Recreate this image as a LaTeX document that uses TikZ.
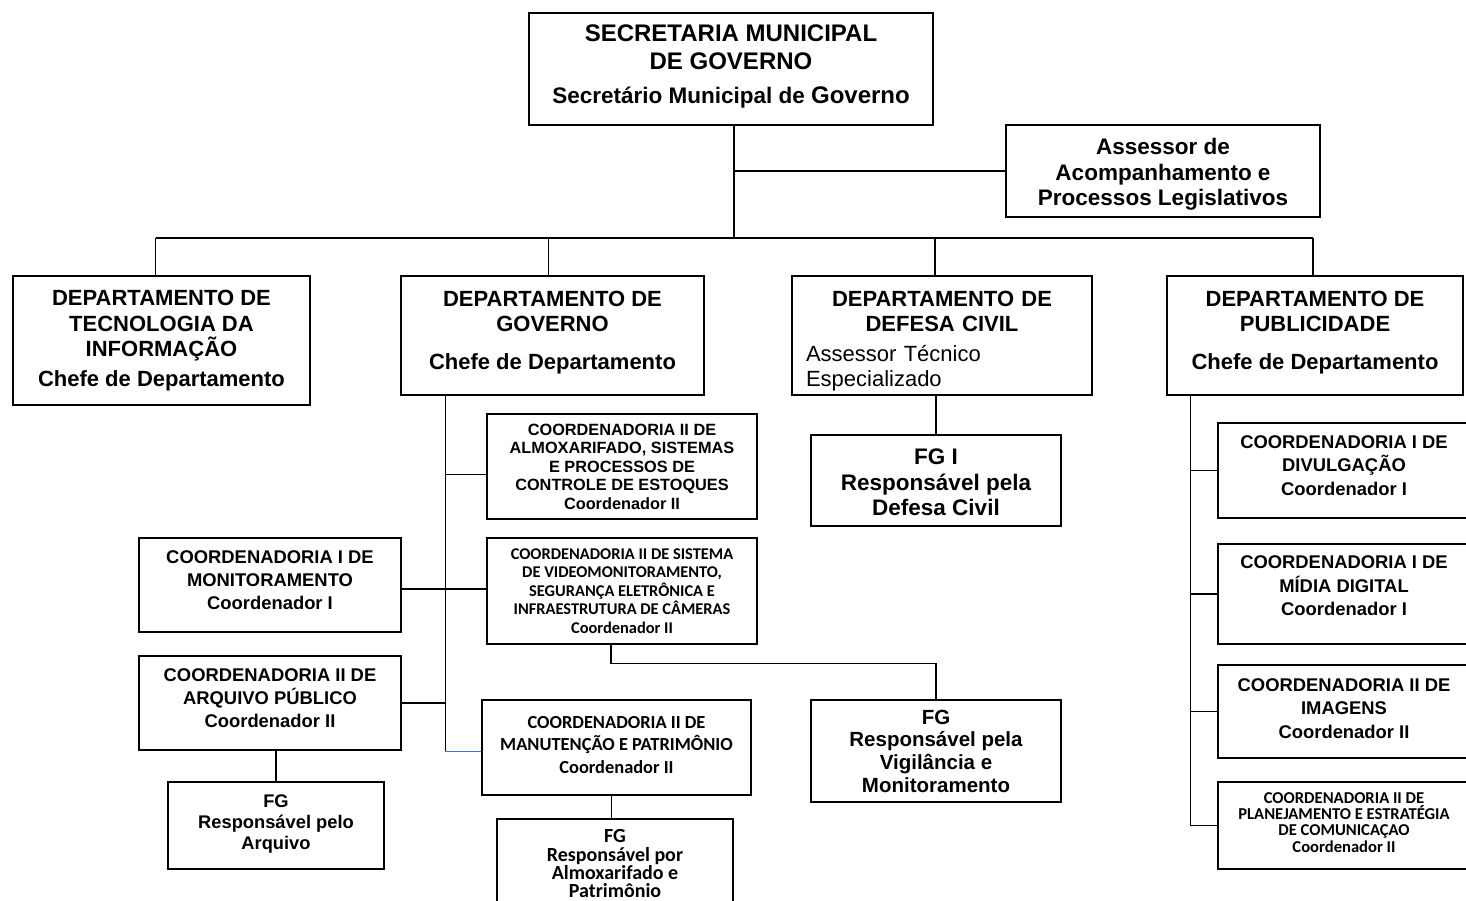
\documentclass[tikz,border=0pt]{standalone}
\usepackage{fontspec}
\setmainfont{Liberation Sans}
\newfontfamily\calfont{Carlito}
\definecolor{linkblue}{HTML}{4472C4}
\newcommand\orgsize[2]{\fontsize{#1}{#2}\selectfont}
\begin{document}
\begin{tikzpicture}[x=1pt,y=-1pt,
    box/.style={draw,line width=1.2pt,align=center,inner sep=0pt},
    wire/.style={line width=1.2pt}]
  \useasboundingbox[fill=white] (0,0) rectangle (1466,901);
  %% secretaria
  \node[box,font=\bfseries\orgsize{24}{28},minimum width=404pt,minimum height=112pt] (sec) at (731,69)
    {SECRETARIA MUNICIPAL\\DE GOVERNO\\[6pt]{\orgsize{22.5}{28}Secretário Municipal de }Governo\\[-18pt]\mbox{}};
  \node[box,font=\bfseries\orgsize{22.5}{25.5},minimum width=314pt,minimum height=92pt] (ass) at (1163,171)
    {\mbox{}\\[-2pt]Assessor de\\Acompanhamento e\\Processos Legislativos};
  %% departamentos
  \node[box,font=\bfseries\orgsize{22}{25.5},minimum width=297pt,minimum height=129pt] (ti) at (161.5,340.5)
    {DEPARTAMENTO DE\\TECNOLOGIA DA\\INFORMAÇÃO\\[4pt]Chefe de Departamento};
  \node[box,font=\bfseries\orgsize{22}{25},minimum width=303pt,minimum height=119pt] (gov) at (552.5,335.5)
    {DEPARTAMENTO DE\\GOVERNO\\[13pt]Chefe de Departamento\\[-15pt]\mbox{}};
  \node[box,font=\orgsize{22}{25},align=left,text width=272pt,minimum width=300pt,minimum height=119pt] (def) at (942,335.5)
    {{\centering\bfseries\mbox{}\\[1pt]DEPARTAMENTO DE\\DEFESA CIVIL\par}\vspace{5pt}Assessor Técnico\\Especializado};
  \node[box,font=\bfseries\orgsize{22}{25},minimum width=296pt,minimum height=119pt] (pub) at (1315,335.5)
    {DEPARTAMENTO DE\\PUBLICIDADE\\[13pt]Chefe de Departamento\\[-15pt]\mbox{}};
  %% governo
  \node[box,font=\bfseries\orgsize{16.3}{18.5},minimum width=270pt,minimum height=105pt] (almox) at (622,466.5)
    {COORDENADORIA II DE\\ALMOXARIFADO, SISTEMAS\\E PROCESSOS DE\\CONTROLE DE ESTOQUES\\Coordenador II};
  \node[box,font=\calfont\bfseries\orgsize{16.4}{18.5},minimum width=270pt,minimum height=106pt] (video) at (622,591)
    {COORDENADORIA II DE SISTEMA\\DE VIDEOMONITORAMENTO,\\SEGURANÇA ELETRÔNICA E\\INFRAESTRUTURA DE CÂMERAS\\Coordenador II};
  \node[box,font=\bfseries\orgsize{18.4}{23},minimum width=262pt,minimum height=94pt] (mon) at (270,585)
    {COORDENADORIA I DE\\MONITORAMENTO\\Coordenador I\\[-13pt]\mbox{}};
  \node[box,font=\bfseries\orgsize{18.4}{23},minimum width=262pt,minimum height=94pt] (arq) at (270,703)
    {COORDENADORIA II DE\\ARQUIVO PÚBLICO\\Coordenador II\\[-13pt]\mbox{}};
  \node[box,font=\bfseries\orgsize{18.3}{21},minimum width=216pt,minimum height=87pt] (fgarq) at (276,825.5)
    {FG\\Responsável pelo\\Arquivo\\[-15pt]\mbox{}};
  \node[box,font=\calfont\bfseries\orgsize{18.4}{22.5},minimum width=269pt,minimum height=95pt] (manut) at (616.5,747.5)
    {COORDENADORIA II DE\\MANUTENÇÃO E PATRIMÔNIO\\Coordenador II\\[-17pt]\mbox{}};
  \node[box,font=\calfont\bfseries\orgsize{20}{18.3},minimum width=236pt,minimum height=102pt] (fgalm) at (615,870)
    {FG\\Responsável por\\Almoxarifado e\\Patrimônio\\[-6pt]\mbox{}};
  %% defesa civil
  \node[box,font=\bfseries\orgsize{22.5}{25.5},minimum width=250pt,minimum height=91pt] (fgi) at (936,480.5)
    {\mbox{}\\[-5.5pt]FG I\\Responsável pela\\Defesa Civil};
  \node[box,font=\bfseries\orgsize{20.5}{22.7},minimum width=250pt,minimum height=102pt] (fgvig) at (936,751)
    {FG\\Responsável pela\\Vigilância e\\Monitoramento};
  %% publicidade
  \node[box,font=\bfseries\orgsize{18.4}{23.5},minimum width=252pt,minimum height=95pt] (div) at (1344,470.5)
    {COORDENADORIA I DE\\DIVULGAÇÃO\\Coordenador I\\[-13.5pt]\mbox{}};
  \node[box,font=\bfseries\orgsize{18.4}{23.5},minimum width=252pt,minimum height=100pt] (mid) at (1344,594)
    {COORDENADORIA I DE\\MÍDIA DIGITAL\\Coordenador I\\[-7pt]\mbox{}};
  \node[box,font=\bfseries\orgsize{18.4}{23.5},minimum width=252pt,minimum height=93pt] (img) at (1344,711.5)
    {COORDENADORIA II DE\\IMAGENS\\Coordenador II\\[-17.5pt]\mbox{}};
  \node[box,font=\calfont\bfseries\orgsize{16.6}{16.3},minimum width=252pt,minimum height=87pt] (plan) at (1344,825.5)
    {COORDENADORIA II DE\\PLANEJAMENTO E ESTRATÉGIA\\DE COMUNICAÇAO\\Coordenador II\\[-10pt]\mbox{}};
  %% ligacoes
  \coordinate (bus) at (734,238);
  \draw[wire] (sec.south -| bus) -- (bus);
  \draw[wire] (bus |- ass.west) -- (ass.west);
  \draw[wire] ([xshift=-6pt]ti.north |- bus) -- ([xshift=-2pt]pub.north |- bus);
  \foreach \d/\s in {ti/-6,gov/-4,def/-7,pub/-2}
    \draw[wire] ([xshift=\s pt]\d.north |- bus) -- ([xshift=\s pt]\d.north);
  \draw[wire] (fgi.north |- def.south) -- (fgi.north);
  \coordinate (gspine) at ([xshift=45pt]gov.south west);
  \draw[wire] (gspine) -- ([yshift=-4pt]gspine |- manut.west);
  \draw[wire,linkblue] ([yshift=-4pt]gspine |- manut.west) -- ([yshift=-4pt]manut.west);
  \draw[wire] ([yshift=-8pt]gspine |- almox.west) -- ([yshift=-8pt]almox.west);
  \draw[wire] ([yshift=2pt]mon.east |- video.west) -- ([yshift=2pt]video.west);
  \draw[wire] (arq.east) -- (arq.east -| gspine);
  \draw[wire] (fgarq.north |- arq.south) -- (fgarq.north);
  \draw[wire] ([xshift=-5pt]manut.south) -- ([xshift=-5pt]manut.south |- fgalm.north);
  \draw[wire] ([xshift=-11pt]video.south) -- ++(0,19) -| (fgvig.north);
  \coordinate (pspine) at ([xshift=24pt]pub.south west);
  \draw[wire] (pspine) -- (pspine |- plan.west);
  \foreach \c in {div,mid,img,plan}
    \draw[wire] (pspine |- \c.west) -- (\c.west);
\end{tikzpicture}
\end{document}
